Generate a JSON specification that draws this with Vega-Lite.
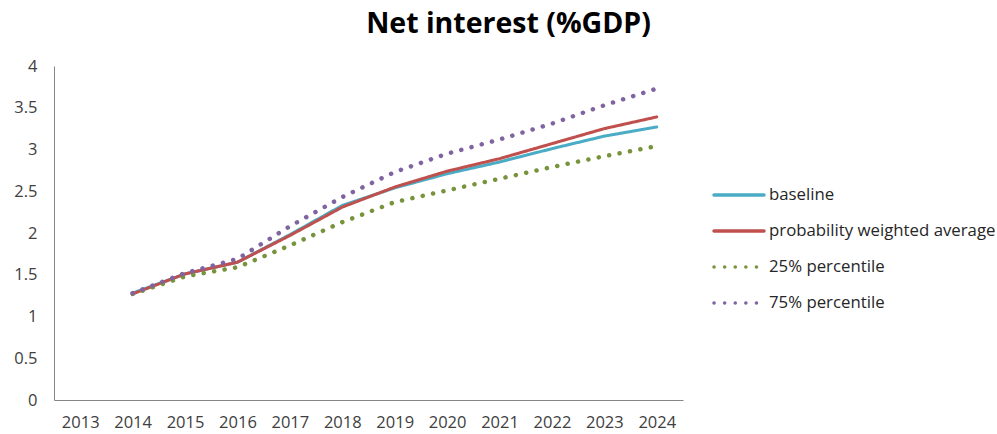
{
  "$schema": "https://vega.github.io/schema/vega-lite/v6.json",
  "autosize": {"type": "none"},
  "width": 629,
  "height": 334,
  "padding": {"left": 54, "top": 66, "right": 314, "bottom": 34},
  "background": "white",
  "title": {
    "text": "Net interest (%GDP)",
    "font": "Open Sans",
    "fontSize": 28.5,
    "fontWeight": "bold",
    "color": "#000000",
    "anchor": "middle",
    "dx": 140,
    "offset": 20
  },
  "config": {
    "view": {"stroke": null},
    "font": "Open Sans",
    "legend": {
      "title": null,
      "orient": "none",
      "legendX": 658,
      "legendY": 102,
      "symbolType": "stroke",
      "symbolSize": 2500,
      "symbolStrokeWidth": 3.5,
      "labelFont": "Open Sans",
      "labelFontSize": 16.8,
      "labelColor": "#262626",
      "labelOffset": 3,
      "rowPadding": -1,
      "labelLimit": 400
    }
  },
  "data": {
    "values": [
      {"year": "2014", "series": "baseline", "value": 1.28},
      {"year": "2015", "series": "baseline", "value": 1.51},
      {"year": "2016", "series": "baseline", "value": 1.65},
      {"year": "2017", "series": "baseline", "value": 1.98},
      {"year": "2018", "series": "baseline", "value": 2.33},
      {"year": "2019", "series": "baseline", "value": 2.54},
      {"year": "2020", "series": "baseline", "value": 2.71},
      {"year": "2021", "series": "baseline", "value": 2.85},
      {"year": "2022", "series": "baseline", "value": 3.01},
      {"year": "2023", "series": "baseline", "value": 3.16},
      {"year": "2024", "series": "baseline", "value": 3.27},
      {"year": "2014", "series": "probability weighted average", "value": 1.27},
      {"year": "2015", "series": "probability weighted average", "value": 1.51},
      {"year": "2016", "series": "probability weighted average", "value": 1.65},
      {"year": "2017", "series": "probability weighted average", "value": 1.97},
      {"year": "2018", "series": "probability weighted average", "value": 2.31},
      {"year": "2019", "series": "probability weighted average", "value": 2.55},
      {"year": "2020", "series": "probability weighted average", "value": 2.74},
      {"year": "2021", "series": "probability weighted average", "value": 2.89},
      {"year": "2022", "series": "probability weighted average", "value": 3.07},
      {"year": "2023", "series": "probability weighted average", "value": 3.25},
      {"year": "2024", "series": "probability weighted average", "value": 3.39},
      {"year": "2014", "series": "25% percentile", "value": 1.27},
      {"year": "2015", "series": "25% percentile", "value": 1.48},
      {"year": "2016", "series": "25% percentile", "value": 1.59},
      {"year": "2017", "series": "25% percentile", "value": 1.85},
      {"year": "2018", "series": "25% percentile", "value": 2.13},
      {"year": "2019", "series": "25% percentile", "value": 2.37},
      {"year": "2020", "series": "25% percentile", "value": 2.51},
      {"year": "2021", "series": "25% percentile", "value": 2.65},
      {"year": "2022", "series": "25% percentile", "value": 2.79},
      {"year": "2023", "series": "25% percentile", "value": 2.92},
      {"year": "2024", "series": "25% percentile", "value": 3.04},
      {"year": "2014", "series": "75% percentile", "value": 1.28},
      {"year": "2015", "series": "75% percentile", "value": 1.52},
      {"year": "2016", "series": "75% percentile", "value": 1.69},
      {"year": "2017", "series": "75% percentile", "value": 2.08},
      {"year": "2018", "series": "75% percentile", "value": 2.43},
      {"year": "2019", "series": "75% percentile", "value": 2.73},
      {"year": "2020", "series": "75% percentile", "value": 2.95},
      {"year": "2021", "series": "75% percentile", "value": 3.12},
      {"year": "2022", "series": "75% percentile", "value": 3.31},
      {"year": "2023", "series": "75% percentile", "value": 3.53},
      {"year": "2024", "series": "75% percentile", "value": 3.73}
    ]
  },
  "encoding": {
    "x": {
      "field": "year",
      "type": "ordinal",
      "scale": {
        "type": "point",
        "padding": 0.5,
        "domain": ["2013", "2014", "2015", "2016", "2017", "2018", "2019", "2020", "2021", "2022", "2023", "2024"]
      },
      "axis": {
        "title": null,
        "labelAngle": 0,
        "labelFont": "Open Sans",
        "labelFontSize": 16.5,
        "labelColor": "#404040",
        "labelPadding": 14,
        "ticks": false,
        "grid": false,
        "domainColor": "#868686",
        "domainWidth": 1
      }
    },
    "y": {
      "field": "value",
      "type": "quantitative",
      "scale": {"domain": [0, 4], "nice": false},
      "axis": {
        "title": null,
        "values": [0, 0.5, 1, 1.5, 2, 2.5, 3, 3.5, 4],
        "format": "~g",
        "labelFont": "Open Sans",
        "labelFontSize": 16.5,
        "labelColor": "#404040",
        "labelPadding": 17,
        "ticks": false,
        "grid": false,
        "domainColor": "#868686",
        "domainWidth": 1
      }
    },
    "color": {
      "field": "series",
      "type": "nominal",
      "scale": {
        "domain": ["baseline", "probability weighted average", "25% percentile", "75% percentile"],
        "range": ["#4BACC6", "#C0504D", "#77933C", "#8064A2"]
      },
      "legend": {
        "encode": {"symbols": {"update": {"strokeCap": {"value": "round"}}}}
      }
    },
    "strokeDash": {
      "field": "series",
      "type": "nominal",
      "scale": {
        "domain": ["baseline", "probability weighted average", "25% percentile", "75% percentile"],
        "range": [[1, 0], [1, 0], [0.1, 10.5], [0.1, 10.5]]
      },
      "legend": {
        "encode": {"symbols": {"update": {"strokeCap": {"value": "round"}}}}
      }
    }
  },
  "layer": [
    {
      "transform": [{"filter": "datum.series == 'baseline' || datum.series == 'probability weighted average'"}],
      "mark": {"type": "line", "strokeCap": "round", "strokeJoin": "round", "strokeWidth": 3}
    },
    {
      "transform": [{"filter": "datum.series == '25% percentile' || datum.series == '75% percentile'"}],
      "mark": {"type": "line", "strokeCap": "round", "strokeJoin": "round", "strokeWidth": 4.5}
    }
  ]
}
